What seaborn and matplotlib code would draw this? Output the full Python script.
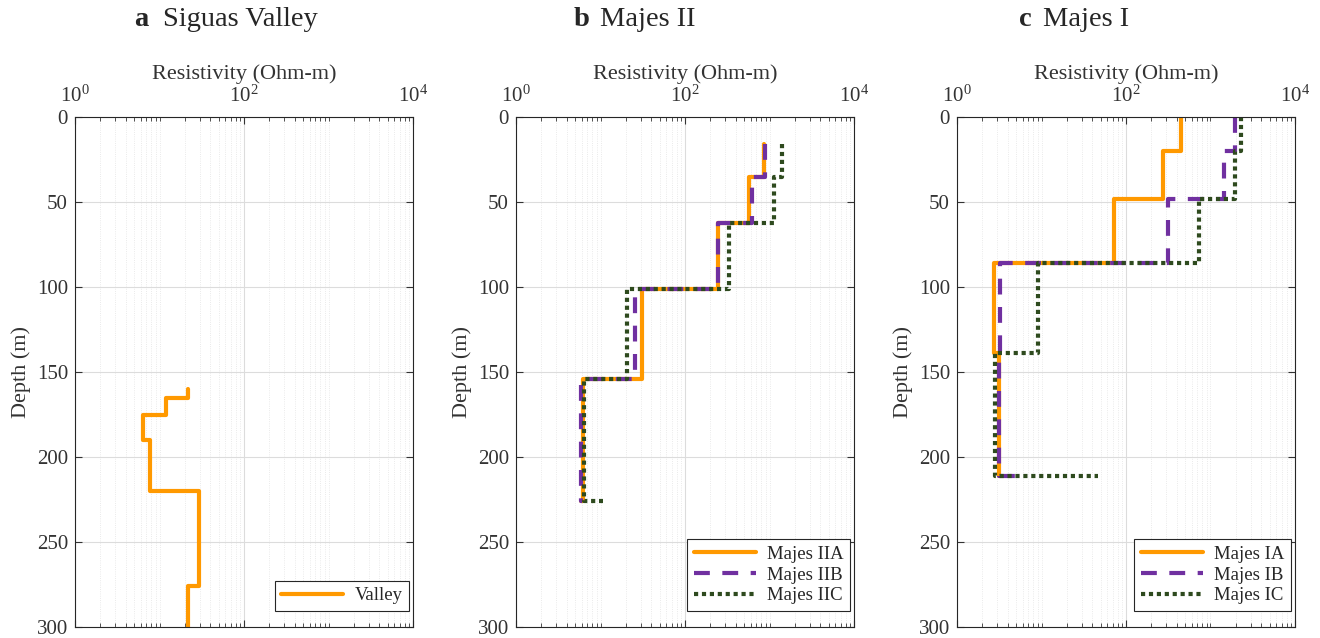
import numpy as np
import pandas as pd
import matplotlib
matplotlib.use("Agg")
import matplotlib.pyplot as plt
import matplotlib.ticker as mticker
import seaborn as sns

# layer tops (m) and resistivities (Ohm-m); last entry = half-space at the bottom depth
valley_depth = [160, 165, 175, 190, 220, 276, 300]
valley_rho = [22, 12, 6.3, 7.8, 29, 22, 22]

majes2_depth = [15.6, 35, 62.5, 101, 154, 226]
majes2a_rho = [855, 570, 245, 31, 6.2, 5.8]
majes2b_rho = [880, 625, 245, 25.5, 5.9, 6.0]
majes2c_rho = [1420, 1130, 330, 20.5, 6.4, 10.8]

majes1_depth = [0, 20, 48, 86, 139, 211]
majes1a_rho = [446, 271, 72, 2.75, 3.15, 3.15]
majes1b_rho = [1940, 1450, 316, 3.2, 3.15, 5.5]
majes1c_rho = [2280, 1970, 728, 9.2, 2.85, 46]

panel_letters = ["a", "b", "c"]
panel_names = ["Siguas Valley", "Majes II", "Majes I"]

orange = "#FF9900"
purple = "#7030A0"
green = "#2E4A1E"
txt = "#333333"

sns.set_style("ticks")
plt.rcParams["font.family"] = ["Liberation Serif", "DejaVu Serif"]
plt.rcParams["mathtext.fontset"] = "custom"
plt.rcParams["mathtext.rm"] = "Liberation Serif"

fig = plt.figure(figsize=(13.2, 6.38), dpi=100)
lefts = [75, 516, 957]
axes = [fig.add_axes([l / 1320, 1 - 627 / 638, 338 / 1320, 510 / 638]) for l in lefts]

series = [
    [(valley_rho, valley_depth, "Valley", orange, "-")],
    [(majes2a_rho, majes2_depth, "Majes IIA", orange, "-"),
     (majes2b_rho, majes2_depth, "Majes IIB", purple, (0, (3.8, 3))),
     (majes2c_rho, majes2_depth, "Majes IIC", green, (0, (1, 0.9)))],
    [(majes1a_rho, majes1_depth, "Majes IA", orange, "-"),
     (majes1b_rho, majes1_depth, "Majes IB", purple, (0, (3.8, 3))),
     (majes1c_rho, majes1_depth, "Majes IC", green, (0, (1, 0.9)))],
]

for ax, group in zip(axes, series):
    for rho, depth, name, col, ls in group:
        df = pd.DataFrame({"rho": rho, "depth": depth})
        sns.lineplot(data=df, x="rho", y="depth", ax=ax, sort=False, estimator=None,
                     color=col, linestyle=ls, linewidth=3, drawstyle="steps-pre",
                     label=name)
    ax.set_xscale("log")
    ax.set_xlim(1, 1e4)
    ax.set_ylim(300, 0)
    ax.set_yticks(np.arange(0, 301, 50))
    ax.xaxis.set_major_locator(mticker.FixedLocator([1, 1e2, 1e4]))
    ax.xaxis.set_minor_locator(mticker.LogLocator(base=10, subs=np.arange(1, 10), numticks=20))
    ax.xaxis.set_minor_formatter(mticker.NullFormatter())
    ax.xaxis.tick_top()
    ax.xaxis.set_label_position("top")
    ax.tick_params(which="both", direction="in", top=True, bottom=True, left=True, right=True,
                   labelbottom=False, labeltop=True, labelsize=15, colors=txt)
    ax.tick_params(axis="x", which="major", length=5, pad=7)
    ax.tick_params(axis="y", which="major", length=5, pad=5)
    ax.tick_params(which="minor", length=3)
    ax.grid(which="major", color="#dcdcdc", linewidth=0.8)
    ax.grid(which="minor", axis="x", color="#e3e3e3", linewidth=0.6, linestyle=":")
    ax.set_axisbelow(True)
    for s in ax.spines.values():
        s.set_color("#262626")
        s.set_linewidth(0.8)
    ax.set_xlabel("Resistivity (Ohm-m)", fontsize=16, labelpad=5, color=txt)
    ax.set_ylabel("Depth (m)", fontsize=16, color=txt, labelpad=4)
    leg = ax.legend(loc="lower right", bbox_to_anchor=(1 - 4 / 338, 16 / 510),
                    borderaxespad=0, fontsize=13.5, frameon=True, fancybox=False,
                    framealpha=1, edgecolor="#262626", handlelength=3.3,
                    labelspacing=0.2, borderpad=0.35, handletextpad=0.6)
    leg.get_frame().set_linewidth(0.8)

letter_x = [141, 582, 1025]
name_x = [163, 600, 1043]
for lx, nx, let, nm in zip(letter_x, name_x, panel_letters, panel_names):
    fig.text(lx / 1320, 1 - 19 / 638, let, fontsize=20.5, fontweight="bold", ha="center", va="center")
    fig.text(nx / 1320, 1 - 19 / 638, nm, fontsize=20.5, ha="left", va="center")

fig.savefig("out.png", dpi=100)
